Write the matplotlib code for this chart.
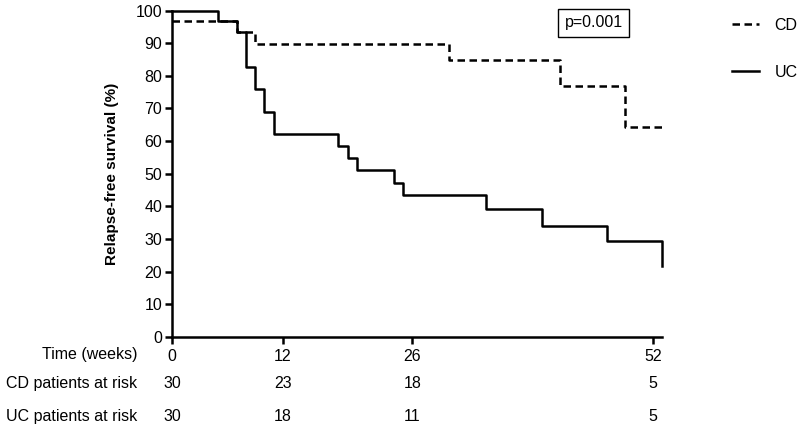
import matplotlib.pyplot as plt
from matplotlib.lines import Line2D
from matplotlib.transforms import blended_transform_factory

plt.rcParams['font.family'] = ['Liberation Sans', 'DejaVu Sans']

# step curves (weeks, % relapse-free)
cd_weeks = [0, 7, 9, 30, 42, 49, 53]
cd_surv = [96.7, 93.3, 89.7, 84.7, 77.0, 64.3, 64.3]

uc_weeks = [0, 5, 7, 8, 9, 10, 11, 18, 19, 20, 24, 25, 34, 40, 47, 53]
uc_surv = [100, 96.7, 93.3, 82.8, 75.9, 69.0, 62.2, 58.6, 54.9, 51.3,
           47.3, 43.4, 39.1, 34.1, 29.4, 21.7]

# numbers at risk table
risk_weeks = [0, 12, 26, 52]
cd_at_risk = [30, 23, 18, 5]
uc_at_risk = [30, 18, 11, 5]

fs = 11.5
fig = plt.figure(figsize=(8, 4.29), dpi=100)
ax = fig.add_axes([0.215, 0.2145, 0.6125, 0.761])

lw = 1.8
dash = (0, (3.0, 1.8))
ax.step(cd_weeks, cd_surv, where='post', color='black', lw=lw,
        linestyle=dash, clip_on=False)
ax.step(uc_weeks, uc_surv, where='post', color='black', lw=lw, clip_on=False)

ax.set_xlim(0, 53)
ax.set_ylim(0, 100)
ax.set_xticks(risk_weeks)
ax.set_yticks(range(0, 101, 10))
ax.tick_params(labelsize=fs, width=1.8, length=5, direction='out', color='black')
ax.tick_params(axis='x', pad=4)
ax.tick_params(axis='y', pad=2)
for s in ['top', 'right']:
    ax.spines[s].set_visible(False)
for s in ['left', 'bottom']:
    ax.spines[s].set_linewidth(1.8)

ax.set_ylabel('Relapse-free survival (%)', fontsize=11, fontweight='bold')
ax.yaxis.set_label_coords(-0.108, 0.5)

# p-value box
ax.text(0.861, 0.962, 'p=0.001', transform=ax.transAxes, fontsize=fs,
        ha='center', va='center',
        bbox=dict(boxstyle='square,pad=0.4', fc='white', ec='black', lw=1))

# legend outside on the right
handles = [Line2D([], [], color='black', lw=lw, linestyle=dash),
           Line2D([], [], color='black', lw=lw)]
fig.legend(handles, ['CD', 'UC'], loc='upper left',
           bbox_to_anchor=(0.903, 0.981), frameon=False, fontsize=fs,
           handlelength=1.7, handletextpad=0.95, labelspacing=2.0,
           borderaxespad=0.2)

# risk table under the axis
tr = blended_transform_factory(ax.transData, fig.transFigure)
lab_x = 137 / 800
fig.text(lab_x, 0.1725, 'Time (weeks)', fontsize=fs, ha='right', va='center')
fig.text(lab_x, 0.105, 'CD patients at risk', fontsize=fs, ha='right', va='center')
fig.text(lab_x, 0.030, 'UC patients at risk', fontsize=fs, ha='right', va='center')
for w, c, u in zip(risk_weeks, cd_at_risk, uc_at_risk):
    ax.text(w, 0.105, str(c), transform=tr, fontsize=fs, ha='center', va='center')
    ax.text(w, 0.030, str(u), transform=tr, fontsize=fs, ha='center', va='center')

fig.savefig('out.png', dpi=100)
